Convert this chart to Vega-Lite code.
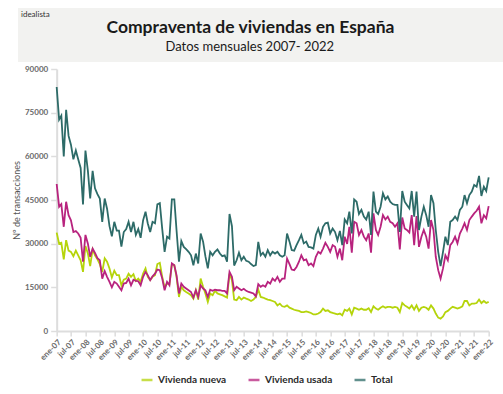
{
  "$schema": "https://vega.github.io/schema/vega-lite/v6.json",
  "background": "white",
  "padding": {"top": 8, "left": 0, "right": 0, "bottom": 0},
  "spacing": 3,
  "center": true,
  "config": {"font": "Lato", "view": {"stroke": null}, "legend": {"layout": {"anchor": "middle"}}},
  "datasets": {
    "compraventas": [
      {"fecha":"2007-01-01","nueva":33800,"usada":50500,"total":83800},
      {"fecha":"2007-02-01","nueva":30000,"usada":42700,"total":72600},
      {"fecha":"2007-03-01","nueva":30300,"usada":43600,"total":74000},
      {"fecha":"2007-04-01","nueva":24600,"usada":35800,"total":60000},
      {"fecha":"2007-05-01","nueva":31200,"usada":44400,"total":76000},
      {"fecha":"2007-06-01","nueva":27600,"usada":39800,"total":67000},
      {"fecha":"2007-07-01","nueva":27200,"usada":38000,"total":64000},
      {"fecha":"2007-08-01","nueva":25700,"usada":34000,"total":59000},
      {"fecha":"2007-09-01","nueva":27600,"usada":34300,"total":62000},
      {"fecha":"2007-10-01","nueva":26000,"usada":33500,"total":59000},
      {"fecha":"2007-11-01","nueva":24300,"usada":32000,"total":56000},
      {"fecha":"2007-12-01","nueva":20300,"usada":23800,"total":43500},
      {"fecha":"2008-01-01","nueva":29200,"usada":33000,"total":62000},
      {"fecha":"2008-02-01","nueva":26600,"usada":30000,"total":55000},
      {"fecha":"2008-03-01","nueva":22300,"usada":25500,"total":45500},
      {"fecha":"2008-04-01","nueva":28000,"usada":28300,"total":55000},
      {"fecha":"2008-05-01","nueva":26000,"usada":26800,"total":49000},
      {"fecha":"2008-06-01","nueva":24600,"usada":25000,"total":47000},
      {"fecha":"2008-07-01","nueva":23000,"usada":24300,"total":45500},
      {"fecha":"2008-08-01","nueva":20300,"usada":18000,"total":37500},
      {"fecha":"2008-09-01","nueva":25000,"usada":20600,"total":45500},
      {"fecha":"2008-10-01","nueva":23800,"usada":18600,"total":42000},
      {"fecha":"2008-11-01","nueva":21500,"usada":16900,"total":36000},
      {"fecha":"2008-12-01","nueva":18400,"usada":15000,"total":32500},
      {"fecha":"2009-01-01","nueva":20700,"usada":16900,"total":37500},
      {"fecha":"2009-02-01","nueva":19200,"usada":16300,"total":34500},
      {"fecha":"2009-03-01","nueva":19200,"usada":15200,"total":34500},
      {"fecha":"2009-04-01","nueva":15700,"usada":14000,"total":29000},
      {"fecha":"2009-05-01","nueva":17600,"usada":16300,"total":34000},
      {"fecha":"2009-06-01","nueva":18000,"usada":16500,"total":35000},
      {"fecha":"2009-07-01","nueva":19700,"usada":18000,"total":37500},
      {"fecha":"2009-08-01","nueva":18600,"usada":15700,"total":34000},
      {"fecha":"2009-09-01","nueva":19500,"usada":17600,"total":37500},
      {"fecha":"2009-10-01","nueva":17200,"usada":17200,"total":33000},
      {"fecha":"2009-11-01","nueva":18000,"usada":17100,"total":35000},
      {"fecha":"2009-12-01","nueva":16900,"usada":15700,"total":32000},
      {"fecha":"2010-01-01","nueva":19700,"usada":18600,"total":38000},
      {"fecha":"2010-02-01","nueva":21500,"usada":20300,"total":41000},
      {"fecha":"2010-03-01","nueva":18600,"usada":19200,"total":37000},
      {"fecha":"2010-04-01","nueva":17500,"usada":17500,"total":34000},
      {"fecha":"2010-05-01","nueva":18600,"usada":18800,"total":37500},
      {"fecha":"2010-06-01","nueva":19200,"usada":19700,"total":37000},
      {"fecha":"2010-07-01","nueva":23000,"usada":21100,"total":43500},
      {"fecha":"2010-08-01","nueva":23400,"usada":20900,"total":43900},
      {"fecha":"2010-09-01","nueva":18600,"usada":18000,"total":35000},
      {"fecha":"2010-10-01","nueva":15000,"usada":14000,"total":27200},
      {"fecha":"2010-11-01","nueva":16300,"usada":16900,"total":32400},
      {"fecha":"2010-12-01","nueva":16100,"usada":15700,"total":31800},
      {"fecha":"2011-01-01","nueva":23000,"usada":23200,"total":45200},
      {"fecha":"2011-02-01","nueva":22600,"usada":22600,"total":45200},
      {"fecha":"2011-03-01","nueva":18600,"usada":19200,"total":34700},
      {"fecha":"2011-04-01","nueva":11700,"usada":12900,"total":23800},
      {"fecha":"2011-05-01","nueva":15200,"usada":16300,"total":30900},
      {"fecha":"2011-06-01","nueva":14000,"usada":15200,"total":28900},
      {"fecha":"2011-07-01","nueva":13400,"usada":14600,"total":28100},
      {"fecha":"2011-08-01","nueva":12900,"usada":14000,"total":27200},
      {"fecha":"2011-09-01","nueva":12300,"usada":13400,"total":26000},
      {"fecha":"2011-10-01","nueva":11100,"usada":11500,"total":22600},
      {"fecha":"2011-11-01","nueva":14000,"usada":14000,"total":26600},
      {"fecha":"2011-12-01","nueva":10800,"usada":11700,"total":23200},
      {"fecha":"2012-01-01","nueva":18000,"usada":15700,"total":33500},
      {"fecha":"2012-02-01","nueva":15200,"usada":14600,"total":30700},
      {"fecha":"2012-03-01","nueva":12900,"usada":14000,"total":25700},
      {"fecha":"2012-04-01","nueva":10000,"usada":11700,"total":21500},
      {"fecha":"2012-05-01","nueva":12900,"usada":14200,"total":27200},
      {"fecha":"2012-06-01","nueva":12300,"usada":13800,"total":26000},
      {"fecha":"2012-07-01","nueva":13800,"usada":14200,"total":27200},
      {"fecha":"2012-08-01","nueva":12900,"usada":14000,"total":28000},
      {"fecha":"2012-09-01","nueva":12600,"usada":14000,"total":26600},
      {"fecha":"2012-10-01","nueva":12300,"usada":13800,"total":25700},
      {"fecha":"2012-11-01","nueva":11900,"usada":13800,"total":26000},
      {"fecha":"2012-12-01","nueva":11500,"usada":12900,"total":23800},
      {"fecha":"2013-01-01","nueva":19700,"usada":20300,"total":40200},
      {"fecha":"2013-02-01","nueva":17500,"usada":18600,"total":36000},
      {"fecha":"2013-03-01","nueva":10800,"usada":14000,"total":22500},
      {"fecha":"2013-04-01","nueva":10600,"usada":15200,"total":24300},
      {"fecha":"2013-05-01","nueva":11700,"usada":14600,"total":26900},
      {"fecha":"2013-06-01","nueva":10800,"usada":14000,"total":24300},
      {"fecha":"2013-07-01","nueva":11500,"usada":14500,"total":25500},
      {"fecha":"2013-08-01","nueva":11100,"usada":13800,"total":24100},
      {"fecha":"2013-09-01","nueva":10800,"usada":13400,"total":23800},
      {"fecha":"2013-10-01","nueva":10300,"usada":13200,"total":23000},
      {"fecha":"2013-11-01","nueva":10800,"usada":12900,"total":22300},
      {"fecha":"2013-12-01","nueva":11700,"usada":11900,"total":22600},
      {"fecha":"2014-01-01","nueva":14200,"usada":16100,"total":30600},
      {"fecha":"2014-02-01","nueva":11700,"usada":15200,"total":26000},
      {"fecha":"2014-03-01","nueva":11500,"usada":15700,"total":26900},
      {"fecha":"2014-04-01","nueva":11100,"usada":15200,"total":25500},
      {"fecha":"2014-05-01","nueva":10800,"usada":16900,"total":27800},
      {"fecha":"2014-06-01","nueva":10600,"usada":16300,"total":26000},
      {"fecha":"2014-07-01","nueva":10300,"usada":18000,"total":27200},
      {"fecha":"2014-08-01","nueva":10000,"usada":17200,"total":26600},
      {"fecha":"2014-09-01","nueva":8800,"usada":18600,"total":27200},
      {"fecha":"2014-10-01","nueva":9400,"usada":16900,"total":26000},
      {"fecha":"2014-11-01","nueva":8500,"usada":18000,"total":25500},
      {"fecha":"2014-12-01","nueva":8300,"usada":18000,"total":26000},
      {"fecha":"2015-01-01","nueva":8800,"usada":24900,"total":33500},
      {"fecha":"2015-02-01","nueva":8000,"usada":23000,"total":30700},
      {"fecha":"2015-03-01","nueva":7700,"usada":21100,"total":27800},
      {"fecha":"2015-04-01","nueva":7300,"usada":20900,"total":27600},
      {"fecha":"2015-05-01","nueva":7100,"usada":22000,"total":29500},
      {"fecha":"2015-06-01","nueva":6900,"usada":23800,"total":31200},
      {"fecha":"2015-07-01","nueva":6500,"usada":26000,"total":33000},
      {"fecha":"2015-08-01","nueva":6500,"usada":24300,"total":30100},
      {"fecha":"2015-09-01","nueva":6700,"usada":24600,"total":30700},
      {"fecha":"2015-10-01","nueva":6500,"usada":22600,"total":28900},
      {"fecha":"2015-11-01","nueva":6200,"usada":23200,"total":28700},
      {"fecha":"2015-12-01","nueva":5700,"usada":22300,"total":28300},
      {"fecha":"2016-01-01","nueva":5700,"usada":25500,"total":33000},
      {"fecha":"2016-02-01","nueva":6000,"usada":27200,"total":35200},
      {"fecha":"2016-03-01","nueva":6500,"usada":26600,"total":32400},
      {"fecha":"2016-04-01","nueva":7700,"usada":28300,"total":35800},
      {"fecha":"2016-05-01","nueva":6900,"usada":30300,"total":37000},
      {"fecha":"2016-06-01","nueva":7100,"usada":28900,"total":37200},
      {"fecha":"2016-07-01","nueva":6500,"usada":27200,"total":33500},
      {"fecha":"2016-08-01","nueva":6200,"usada":29500,"total":35200},
      {"fecha":"2016-09-01","nueva":6000,"usada":28900,"total":34000},
      {"fecha":"2016-10-01","nueva":5700,"usada":25500,"total":31200},
      {"fecha":"2016-11-01","nueva":6000,"usada":28300,"total":34400},
      {"fecha":"2016-12-01","nueva":5400,"usada":24300,"total":29500},
      {"fecha":"2017-01-01","nueva":7300,"usada":32400,"total":38300},
      {"fecha":"2017-02-01","nueva":6900,"usada":29900,"total":37000},
      {"fecha":"2017-03-01","nueva":7700,"usada":35800,"total":41000},
      {"fecha":"2017-04-01","nueva":5700,"usada":26900,"total":33500},
      {"fecha":"2017-05-01","nueva":8000,"usada":37500,"total":45200},
      {"fecha":"2017-06-01","nueva":7700,"usada":37000,"total":44400},
      {"fecha":"2017-07-01","nueva":7300,"usada":33000,"total":40200},
      {"fecha":"2017-08-01","nueva":7700,"usada":34700,"total":41600},
      {"fecha":"2017-09-01","nueva":7300,"usada":32400,"total":39300},
      {"fecha":"2017-10-01","nueva":7300,"usada":31200,"total":38300},
      {"fecha":"2017-11-01","nueva":7800,"usada":33500,"total":41000},
      {"fecha":"2017-12-01","nueva":6500,"usada":26900,"total":33000},
      {"fecha":"2018-01-01","nueva":8500,"usada":40400,"total":47900},
      {"fecha":"2018-02-01","nueva":7700,"usada":34700,"total":41000},
      {"fecha":"2018-03-01","nueva":7300,"usada":33000,"total":40200},
      {"fecha":"2018-04-01","nueva":8000,"usada":35800,"total":42700},
      {"fecha":"2018-05-01","nueva":8500,"usada":39800,"total":47300},
      {"fecha":"2018-06-01","nueva":8000,"usada":38300,"total":45200},
      {"fecha":"2018-07-01","nueva":8300,"usada":39300,"total":46200},
      {"fecha":"2018-08-01","nueva":8300,"usada":37500,"total":44400},
      {"fecha":"2018-09-01","nueva":8000,"usada":37000,"total":43600},
      {"fecha":"2018-10-01","nueva":8300,"usada":35800,"total":43300},
      {"fecha":"2018-11-01","nueva":8000,"usada":37000,"total":43300},
      {"fecha":"2018-12-01","nueva":6500,"usada":28000,"total":34000},
      {"fecha":"2019-01-01","nueva":9600,"usada":39000,"total":48100},
      {"fecha":"2019-02-01","nueva":8800,"usada":35200,"total":44400},
      {"fecha":"2019-03-01","nueva":8300,"usada":34700,"total":43300},
      {"fecha":"2019-04-01","nueva":7700,"usada":33800,"total":42100},
      {"fecha":"2019-05-01","nueva":8800,"usada":39800,"total":48100},
      {"fecha":"2019-06-01","nueva":7300,"usada":29500,"total":39300},
      {"fecha":"2019-07-01","nueva":8800,"usada":39500,"total":47900},
      {"fecha":"2019-08-01","nueva":6900,"usada":28900,"total":34700},
      {"fecha":"2019-09-01","nueva":8000,"usada":32400,"total":39300},
      {"fecha":"2019-10-01","nueva":8300,"usada":34700,"total":42700},
      {"fecha":"2019-11-01","nueva":8000,"usada":32400,"total":39800},
      {"fecha":"2019-12-01","nueva":7300,"usada":28300,"total":35800},
      {"fecha":"2020-01-01","nueva":8800,"usada":38100,"total":46700},
      {"fecha":"2020-02-01","nueva":7700,"usada":34700,"total":43900},
      {"fecha":"2020-03-01","nueva":6000,"usada":25500,"total":34700},
      {"fecha":"2020-04-01","nueva":4600,"usada":20900,"total":27200},
      {"fecha":"2020-05-01","nueva":4200,"usada":18000,"total":22300},
      {"fecha":"2020-06-01","nueva":5000,"usada":21500,"total":27200},
      {"fecha":"2020-07-01","nueva":6500,"usada":26000,"total":32400},
      {"fecha":"2020-08-01","nueva":6900,"usada":24300,"total":29500},
      {"fecha":"2020-09-01","nueva":7700,"usada":29500,"total":37500},
      {"fecha":"2020-10-01","nueva":8300,"usada":30600,"total":38100},
      {"fecha":"2020-11-01","nueva":8000,"usada":32400,"total":39300},
      {"fecha":"2020-12-01","nueva":7700,"usada":30100,"total":38100},
      {"fecha":"2021-01-01","nueva":8000,"usada":33500,"total":41600},
      {"fecha":"2021-02-01","nueva":8500,"usada":35200,"total":42700},
      {"fecha":"2021-03-01","nueva":10300,"usada":37000,"total":46700},
      {"fecha":"2021-04-01","nueva":10300,"usada":34700,"total":43900},
      {"fecha":"2021-05-01","nueva":8800,"usada":38100,"total":46700},
      {"fecha":"2021-06-01","nueva":9400,"usada":39300,"total":47900},
      {"fecha":"2021-07-01","nueva":9400,"usada":40400,"total":50200},
      {"fecha":"2021-08-01","nueva":9600,"usada":41300,"total":49600},
      {"fecha":"2021-09-01","nueva":10800,"usada":42700,"total":53300},
      {"fecha":"2021-10-01","nueva":9600,"usada":37000,"total":46400},
      {"fecha":"2021-11-01","nueva":10300,"usada":39800,"total":49600},
      {"fecha":"2021-12-01","nueva":9600,"usada":38700,"total":48100},
      {"fecha":"2022-01-01","nueva":10000,"usada":42900,"total":52800}
    ]
  },
  "vconcat": [
    {
      "width": 515,
      "height": 54,
      "view": {"fill": "#f2f2f0", "stroke": null},
      "title": {"text": "idealista", "anchor": "start", "frame": "group", "offset": -11, "dx": 3, "fontSize": 8, "fontWeight": "normal", "color": "#333333"},
      "layer": [
        {
          "data": {"values": [{"texto": "Compraventa de viviendas en España"}]},
          "mark": {"type": "text", "align": "left", "fontSize": 17.5, "fontWeight": "bold", "color": "#1a1a1a", "baseline": "middle", "dy": -7, "dx": -169},
          "encoding": {"text": {"field": "texto", "type": "nominal"}}
        },
        {
          "data": {"values": [{"texto": "Datos mensuales 2007- 2022"}]},
          "mark": {"type": "text", "align": "left", "fontSize": 13, "fontWeight": "normal", "color": "#1a1a1a", "baseline": "middle", "dy": 12, "dx": -110},
          "encoding": {"text": {"field": "texto", "type": "nominal"}}
        }
      ]
    },
    {
      "width": 432,
      "height": 262,
      "data": {"name": "compraventas"},
      "transform": [{"fold": ["nueva", "usada", "total"], "as": ["serie", "valor"]}],
      "mark": {"type": "line", "strokeWidth": 1.8},
      "encoding": {
        "x": {
          "field": "fecha",
          "type": "temporal",
          "scale": {"type": "utc"},
          "axis": {
            "title": null,
            "tickCount": {"interval": "month", "step": 6},
            "labelExpr": "(utcmonth(datum.value) == 0 ? 'ene-' : 'jul-') + utcFormat(datum.value, '%y')",
            "labelAngle": -45,
            "labelFontSize": 8,
            "labelFontWeight": "bold",
            "labelColor": "#6a6a6a",
            "labelOverlap": false,
            "labelFlush": false,
            "grid": false,
            "domainColor": "#dddddd",
            "domainWidth": 2,
            "tickColor": "#dddddd",
            "tickWidth": 1.5,
            "tickSize": 5
          }
        },
        "y": {
          "field": "valor",
          "type": "quantitative",
          "scale": {"domain": [0, 90000], "nice": false},
          "axis": {
            "title": ["", "Nº de transacciones"],
            "titleLineHeight": 12,
            "titleFontSize": 9,
            "titleFontWeight": "normal",
            "titleColor": "#555555",
            "titlePadding": 3,
            "values": [0, 15000, 30000, 45000, 60000, 75000, 90000],
            "format": "d",
            "labelFontSize": 8,
            "labelFontWeight": "bold",
            "labelColor": "#6a6a6a",
            "labelPadding": 3,
            "grid": false,
            "domainColor": "#dddddd",
            "domainWidth": 2,
            "tickColor": "#dddddd",
            "tickWidth": 1.5,
            "tickSize": 6
          }
        },
        "color": {
          "field": "serie",
          "type": "nominal",
          "scale": {"domain": ["nueva", "usada", "total"], "range": ["#b5d40b", "#b8237e", "#2d6b68"]},
          "legend": {
            "orient": "bottom",
            "direction": "horizontal",
            "title": null,
            "labelExpr": "datum.label == 'nueva' ? 'Vivienda nueva' : (datum.label == 'usada' ? 'Vivienda usada' : 'Total')",
            "symbolType": "stroke",
            "symbolStrokeWidth": 2.5,
            "symbolSize": 120,
            "symbolOpacity": 0.75,
            "labelFontSize": 10,
            "labelFontWeight": "bold",
            "labelColor": "#2a2a2a",
            "columnPadding": 16,
            "offset": 11
          }
        }
      }
    }
  ]
}
